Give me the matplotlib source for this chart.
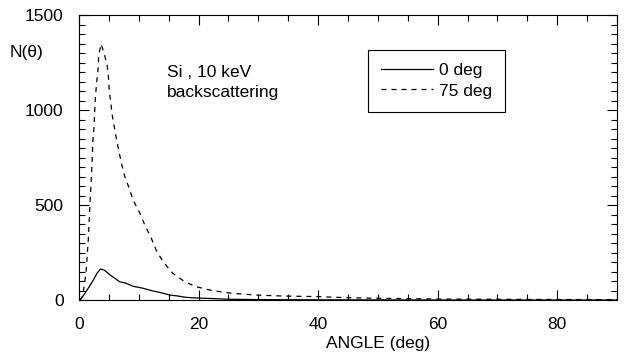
import matplotlib
import matplotlib.pyplot as plt
from matplotlib.ticker import MultipleLocator

matplotlib.use("Agg")

plt.rcParams["font.family"] = ["Liberation Sans", "DejaVu Sans"]

# backscattered distribution, 75 deg incidence (dashed)
angle_75 = [0.0, 0.45, 0.72, 1.17, 1.55, 1.83, 2.17, 2.33, 2.5, 2.67, 2.8, 3.0,
            3.2, 3.3, 3.7, 4.2, 4.7, 4.95, 5.05, 5.3, 5.55, 5.9, 6.3, 6.7,
            7.1, 7.67, 8.4, 9.05, 10.2, 11.0, 12.1, 12.9, 14.05, 15.7, 17.7,
            19.6, 21.8, 23.5, 25.7, 29.6, 34.0, 39.6, 45.0, 50.7, 60.0, 75.0, 90.0]
counts_75 = [0, 10, 42, 142, 316, 500, 710, 842, 905, 1026, 1089, 1158,
             1219, 1289, 1347, 1298, 1237, 1167, 1105, 1044, 974, 912, 842, 780,
             719, 649, 588, 526, 456, 395, 325, 263, 202, 140, 96,
             70, 53, 44, 35, 26, 21, 18, 12, 9, 5, 3, 2]

# normal incidence (solid)
angle_0 = [0.0, 0.3, 1.0, 1.7, 2.4, 3.0, 3.6, 4.2, 5.2, 6.8, 7.9, 9.05, 10.7,
           12.3, 13.5, 15.2, 16.3, 17.9, 20.0, 22.0, 25.0, 30.0, 40.0, 60.0, 90.0]
counts_0 = [0, 5, 35, 70, 105, 140, 163, 158, 132, 96, 88, 72, 62,
            48, 40, 26, 22, 14, 10, 8, 4, 2, 1, 0, 0]

fig = plt.figure(figsize=(6.26, 3.56), dpi=100)
ax = fig.add_axes([79 / 626, 56 / 356, 538 / 626, 285 / 356])

ax.plot(angle_0, counts_0, color="black", lw=0.9, label="0 deg")
ax.plot(angle_75, counts_75, color="black", lw=0.9, dashes=(4, 4), label="75 deg")

ax.set_xlim(0, 90)
ax.set_ylim(0, 1500)
ax.xaxis.set_major_locator(MultipleLocator(20))
ax.xaxis.set_minor_locator(MultipleLocator(5))
ax.yaxis.set_major_locator(MultipleLocator(500))
ax.yaxis.set_minor_locator(MultipleLocator(50))
ax.tick_params(which="both", direction="in", top=True, right=True, labelsize=12.5)
ax.tick_params(which="major", length=7, width=0.8)
ax.tick_params(which="minor", length=4.5, width=0.8)
ax.tick_params(axis="x", pad=12)
ax.tick_params(axis="y", pad=11)
for s in ax.spines.values():
    s.set_linewidth(0.8)

fig.text(10 / 626, 1 - 53 / 356, "N(\u03b8)", fontsize=12.5, va="center", ha="left")
fig.text(378 / 626, 8 / 356, "ANGLE (deg)", fontsize=12.5, ha="center", va="baseline")

ax.text(14.7, 1174, "Si , 10 keV", fontsize=12.5, va="baseline")
ax.text(14.7, 1070, "backscattering", fontsize=12.5, va="baseline")

leg = ax.legend(loc="upper left", bbox_to_anchor=((368 - 79) / 538, (300 - 50) / 285),
                fontsize=12.5, frameon=True, fancybox=False, framealpha=1,
                edgecolor="black", handlelength=3.0, handletextpad=0.35,
                borderpad=0.75, labelspacing=0.3, borderaxespad=0)
leg.get_frame().set_linewidth(0.8)

fig.savefig("out.png", dpi=100)
